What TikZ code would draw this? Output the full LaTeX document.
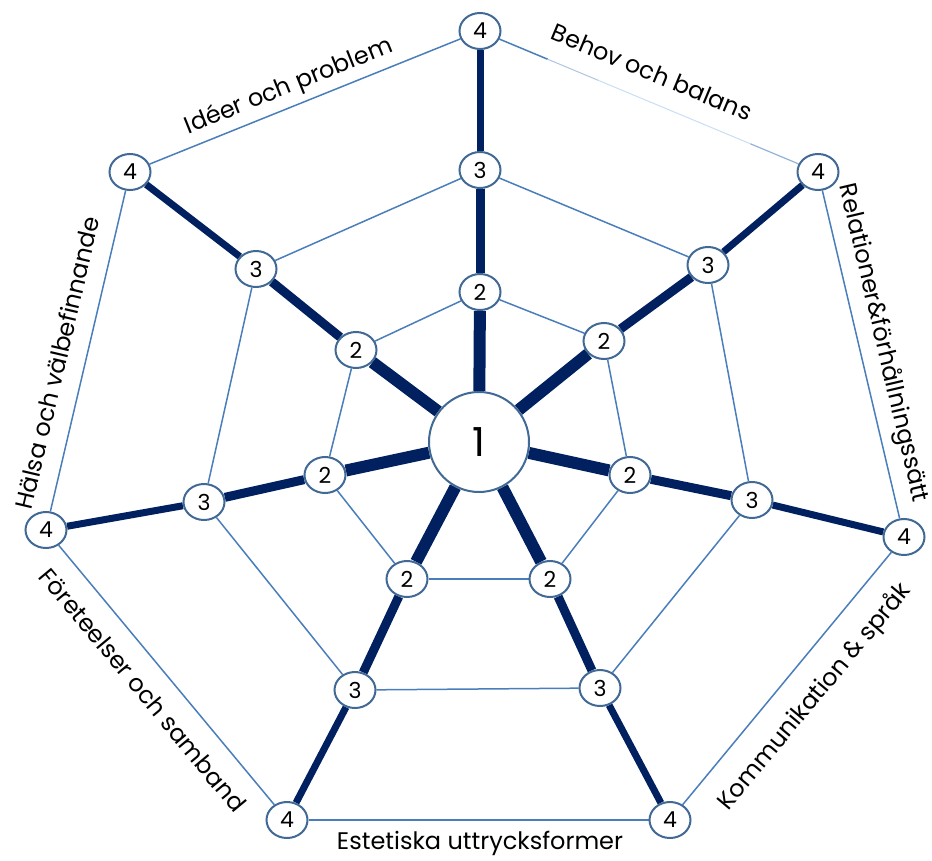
\documentclass[tikz,border=0pt]{standalone}
\usepackage{fontspec}
\setmainfont{Poppins}
\usetikzlibrary{calc,shapes.geometric}
\definecolor{navy}{RGB}{0,32,96}
\definecolor{web}{RGB}{74,126,187}
\definecolor{rim}{RGB}{65,105,150}
\definecolor{pale}{RGB}{200,222,244}
\pgfdeclarelayer{bg}
\pgfsetlayers{bg,main}
\begin{document}
\begin{tikzpicture}[x=1pt,y=-1pt,
  lvl/.style={ellipse,draw=rim,line width=2pt,fill=white,minimum width=41pt,minimum height=36pt,inner sep=0pt,font=\fontsize{22}{22}\selectfont},
  hub/.style={circle,draw=rim,line width=2pt,fill=white,minimum size=100pt,inner sep=0pt,font=\fontsize{40}{40}\selectfont},
  webline/.style={draw=web,line width=1.5pt},
  sp1/.style={draw=navy,line width=12pt},
  sp2/.style={draw=navy,line width=9pt},
  sp3/.style={draw=navy,line width=7pt},
  lab/.style={font=\fontsize{24}{24}\selectfont,inner sep=0pt}]
\useasboundingbox (0,0) rectangle (932,861);
% nodes
\node[hub] (ctr) at (479,442) {1};
\foreach \k/\x/\y/\t in {a2/480/292/2,b2/604/341/2,c2/630/475/2,d2/550/579/2,e2/407/579/2,f2/325/475/2,g2/356/350/2,
  a3/480/170/3,b3/708/265/3,c3/752/500/3,d3/600/688/3,e3/355/690/3,f3/204/502/3,g3/256/269/3,
  a4/480/31/4,b4/818/172/4,c4/904/537/4,d4/670/820/4,e4/287/820/4,f4/46/530/4,g4/130/172/4}
  \node[lvl] (\k) at (\x,\y) {\raisebox{-2pt}{\t}};
\begin{pgfonlayer}{bg}
% rings
\foreach \p/\q in {a2/b2,b2/c2,c2/d2,d2/e2,e2/f2,f2/g2,g2/a2,
                   a3/b3,b3/c3,c3/d3,d3/e3,e3/f3,f3/g3,g3/a3,
                   b4/c4,c4/d4,d4/e4,e4/f4,f4/g4,g4/a4}
  \draw[webline] (\p) -- (\q);
% fading side
\coordinate (h1) at ($(a4)!0.2!(b4)$);
\coordinate (h2) at ($(a4)!0.35!(b4)$);
\coordinate (h3) at ($(a4)!0.8!(b4)$);
\draw[webline] (a4) -- (h1);
\draw[draw=web!45,line width=1pt] (h1) -- (h2);
\draw[draw=pale,line width=1pt] (h2) -- (h3);
\draw[draw=web!60,line width=1.2pt] (h3) -- (b4);
% spokes
\foreach \k in {a,b,c,d,e,f,g}{
  \draw[sp1] (ctr) -- (\k2);
  \draw[sp2] (\k2) -- (\k3);
  \draw[sp3] (\k3) -- (\k4);
}
\end{pgfonlayer}
% labels
\node[lab,rotate=21.9] (l1) at (289,87) {Idéer och problem};
\node[lab,rotate=-22.6] (l2) at (652,72) {Behov och balans};
\node[lab,rotate=-76.8] (l3) at (883,343) {Relationer\&förhållningssätt};
\node[lab,rotate=50.2] (l4) at (815,697) {Kommunikation \& språk};
\node[lab] (l5) at (480,843) {Estetiska uttrycksformer};
\node[lab,rotate=-50.3] (l6) at (143,690) {Företeelser och samband};
\node[lab,rotate=76.8] (l7) at (57,363) {Hälsa och välbefinnande};
\end{tikzpicture}
\end{document}
